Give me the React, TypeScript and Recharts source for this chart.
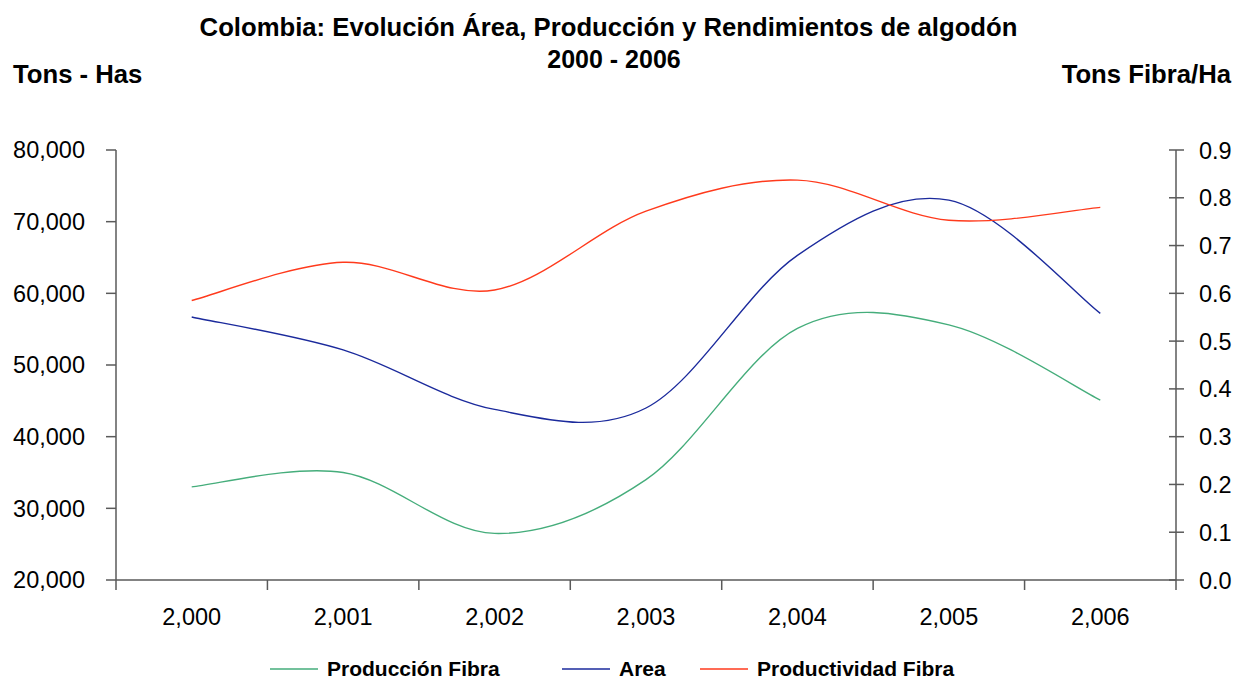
import React from 'react';
import { LineChart, Line, XAxis, YAxis } from 'recharts';

// ---- data ----
const years = ['2,000', '2,001', '2,002', '2,003', '2,004', '2,005', '2,006'];
const produccionFibra = [33000, 35000, 26500, 34000, 55100, 55600, 45100];
const area = [56700, 52100, 43800, 44000, 65300, 73000, 57200];
const productividadFibra = [0.585, 0.665, 0.607, 0.772, 0.837, 0.753, 0.78];
const leftTicks = [20000, 30000, 40000, 50000, 60000, 70000, 80000];
const rightTicks = [0, 0.1, 0.2, 0.3, 0.4, 0.5, 0.6, 0.7, 0.8, 0.9];

const title1 = 'Colombia: Evolución Área, Producción y Rendimientos de algodón';
const title2 = '2000 - 2006';
const leftTitle = 'Tons - Has';
const rightTitle = 'Tons Fibra/Ha';

const series = [
  { key: 'produccion', name: 'Producción Fibra', color: '#45AD7B', axis: 'left' },
  { key: 'area', name: 'Area', color: '#1B2A9C', axis: 'left' },
  { key: 'productividad', name: 'Productividad Fibra', color: '#FF3A1C', axis: 'right' },
];

const data = years.map((year, i) => ({
  i,
  year,
  produccion: produccionFibra[i],
  area: area[i],
  productividad: productividadFibra[i],
}));

const xTicks: number[] = [];
years.forEach((_, i) => { xTicks.push(i - 0.5); xTicks.push(i); });
xTicks.push(years.length - 0.5);

const FONT = "'Liberation Sans', Arial, sans-serif";
const AXIS = '#5a5a5a';

// Excel-like smoothed line (Catmull-Rom through the points)
const excelSmooth: any = (context: any) => {
  let pts: number[][] = [];
  return {
    areaStart() {},
    areaEnd() {},
    lineStart() { pts = []; },
    point(x: number, y: number) { pts.push([+x, +y]); },
    lineEnd() {
      const n = pts.length;
      if (!n) return;
      context.moveTo(pts[0][0], pts[0][1]);
      if (n === 1) return;
      for (let k = 0; k < n - 1; k++) {
        const p0 = pts[k - 1] || pts[k];
        const p1 = pts[k];
        const p2 = pts[k + 1];
        const p3 = pts[k + 2] || p2;
        context.bezierCurveTo(
          p1[0] + (p2[0] - p0[0]) / 6, p1[1] + (p2[1] - p0[1]) / 6,
          p2[0] - (p3[0] - p1[0]) / 6, p2[1] - (p3[1] - p1[1]) / 6,
          p2[0], p2[1]
        );
      }
    },
  };
};

const XTick = (props: any) => {
  const { x, y, payload } = props;
  const v = payload.value;
  if (Number.isInteger(v)) {
    return (
      <text x={x} y={y + 45} textAnchor="middle" fontSize={23.5} fontFamily={FONT} fill="#000">
        {years[v]}
      </text>
    );
  }
  return <line x1={x} x2={x} y1={y} y2={y + 10} stroke={AXIS} strokeWidth={1.5} />;
};

const RightTick = (props: any) => {
  const { x, y, payload } = props;
  const ax = x - 23;
  return (
    <g>
      <line x1={ax - 7} x2={ax + 8} y1={y} y2={y} stroke={AXIS} strokeWidth={1.5} />
      <text x={x} y={y + 8.5} textAnchor="start" fontSize={23.5} fontFamily={FONT} fill="#000">
        {Number(payload.value).toFixed(1)}
      </text>
    </g>
  );
};

const legendPos = [
  { line: 270, text: 327 },
  { line: 562, text: 619 },
  { line: 700, text: 757 },
];

export default function App() {
  return (
    <div style={{ position: 'absolute', left: 0, top: 0, width: 1234, height: 681, background: '#fff' }}>
      <LineChart
        width={1234}
        height={681}
        data={data}
        margin={{ top: 150, right: 0, left: 0, bottom: 61 }}
      >
        <XAxis
          dataKey="i"
          type="number"
          domain={[-0.5, years.length - 0.5]}
          ticks={xTicks}
          interval={0}
          tick={<XTick />}
          tickLine={false}
          tickSize={0}
          tickMargin={0}
          height={40}
          stroke={AXIS}
          strokeWidth={1.5}
        />
        <YAxis
          yAxisId="left"
          orientation="left"
          width={116}
          domain={[20000, 80000]}
          ticks={leftTicks}
          interval={0}
          tickFormatter={(v: number) => v.toLocaleString('en-US')}
          tick={{ fill: '#000', fontSize: 23.5, fontFamily: FONT }}
          tickSize={10}
          tickMargin={21}
          stroke={AXIS}
          strokeWidth={1.5}
        />
        <YAxis
          yAxisId="right"
          orientation="right"
          width={58}
          domain={[0, 0.9]}
          ticks={rightTicks}
          interval={0}
          tick={<RightTick />}
          tickLine={false}
          tickSize={0}
          tickMargin={23}
          stroke={AXIS}
          strokeWidth={1.5}
        />
        {series.map((s) => (
          <Line
            key={s.key}
            yAxisId={s.axis}
            dataKey={s.key}
            name={s.name}
            type={excelSmooth}
            stroke={s.color}
            strokeWidth={1.4}
            dot={false}
            activeDot={false}
            isAnimationActive={false}
          />
        ))}
      </LineChart>
      <svg
        width={1234}
        height={681}
        style={{ position: 'absolute', left: 0, top: 0, pointerEvents: 'none' }}
      >
        <g fontFamily={FONT} fontWeight="bold" fill="#000">
          <text x={608.5} y={36} textAnchor="middle" fontSize={25.7}>{title1}</text>
          <text x={614} y={68} textAnchor="middle" fontSize={25}>{title2}</text>
          <text x={13} y={83} textAnchor="start" fontSize={25.7}>{leftTitle}</text>
          <text x={1231} y={83} textAnchor="end" fontSize={25.7}>{rightTitle}</text>
        </g>
        {series.map((s, k) => (
          <g key={s.key}>
            <line x1={legendPos[k].line} x2={legendPos[k].line + 48} y1={669} y2={669} stroke={s.color} strokeWidth={1.5} />
            <text x={legendPos[k].text} y={676} fontFamily={FONT} fontWeight="bold" fontSize={21} fill="#000">
              {s.name}
            </text>
          </g>
        ))}
      </svg>
    </div>
  );
}
